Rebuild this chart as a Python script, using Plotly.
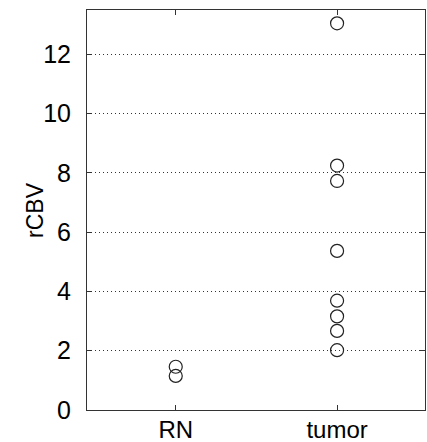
import plotly.graph_objects as go

categories = ["RN", "tumor"]
rn_values = [1.46, 1.15]
tumor_values = [13.05, 8.25, 7.73, 5.37, 3.69, 3.16, 2.67, 2.02]
y_ticks = [0, 2, 4, 6, 8, 10, 12]
y_title = "rCBV"

marker = dict(symbol="circle-open", size=13, color="#222222", line=dict(width=1.2, color="#222222"))

fig = go.Figure()
fig.add_trace(go.Scatter(x=[1] * len(rn_values), y=rn_values, mode="markers",
                         marker=marker, showlegend=False))
fig.add_trace(go.Scatter(x=[2] * len(tumor_values), y=tumor_values, mode="markers",
                         marker=marker, showlegend=False))

fig.update_layout(
    width=427, height=442,
    margin=dict(l=87, r=2, t=10, b=32, autoexpand=False),
    paper_bgcolor="white", plot_bgcolor="white",
    font=dict(family="Liberation Sans", size=25, color="black"),
)
fig.update_xaxes(
    range=[0.45, 2.545], tickmode="array", tickvals=[1, 2], ticktext=categories,
    showgrid=False, zeroline=False, showline=True, linecolor="#333333", linewidth=1,
    mirror="ticks", ticks="inside", ticklen=5, tickcolor="#333333", tickwidth=1,
    tickfont=dict(size=24), automargin=False, ticklabelstandoff=-2,
)
fig.update_yaxes(
    range=[0, 13.5], tickmode="array", tickvals=y_ticks,
    showgrid=True, gridcolor="#333333", gridwidth=1, griddash="1px,3px",
    zeroline=False, showline=True, linecolor="#333333", linewidth=1,
    mirror="ticks", ticks="inside", ticklen=5, tickcolor="#333333", tickwidth=1,
    automargin=False, ticklabelstandoff=10,
)
fig.add_annotation(
    text=y_title, textangle=-90, xref="paper", yref="paper",
    x=-0.154, y=0.5, xanchor="center", yanchor="middle", showarrow=False,
    font=dict(size=23),
)

fig.write_html(
    "out.html",
    config={"displayModeBar": False},
    post_script="document.body.style.margin='0';document.body.style.overflow='hidden';",
)
